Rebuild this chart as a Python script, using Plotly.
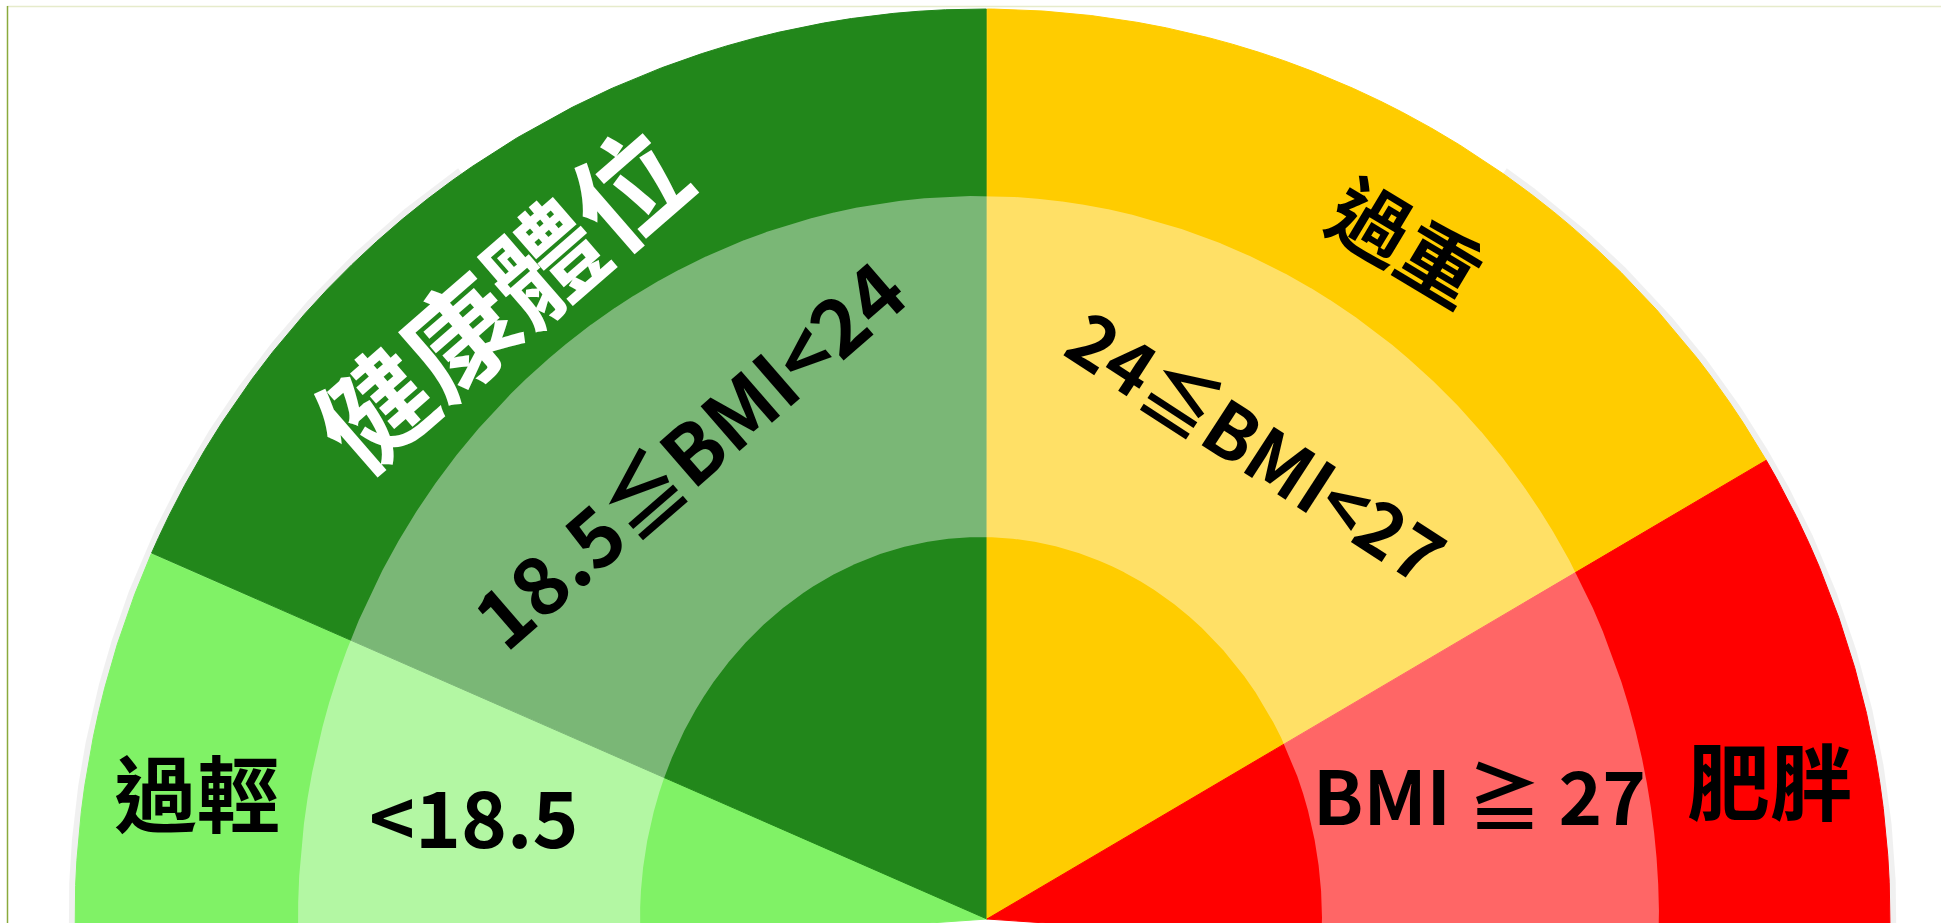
import numpy as np
import plotly.graph_objects as go

# ---------------- data ----------------
categories = ["過輕", "健康體位", "過重", "肥胖"]
bmi_ranges = ["<18.5", "18.5≦BMI<24", "24≦BMI<27", "BMI ≧ 27"]
sector_degrees = [23.65, 66.35, 59.5, 30.5]          # angular width of each zone, left → right
base_colors = ["#80F266", "#22871B", "#FFCC00", "#FF0000"]

# ---------------- geometry / style ----------------
W, H = 1941, 923
OX, OY = 987, 919                    # gauge centre in pixels (from left / from top)
OUTER = (-4.5, 907.5, 910.0)         # ellipse (centre x-offset, half width, half height)
MIDDLE = (-8.5, 680.5, 723.0)
INNER = (-6.0, 341.0, 382.0)
OVERLAY = "rgba(255,255,255,0.40)"
FONT = "Noto Sans CJK TC, Noto Sans CJK JP, sans-serif"


def ellipse_pts(e, n=8000, grow=0.0, lo=-5, hi=185):
    ex, a, b = e
    phi = np.linspace(np.radians(lo), np.radians(hi), n)
    return ex + (a + grow) * np.cos(phi), (b + grow) * np.sin(phi)


fig = go.Figure()

# soft edge shadow on the steep sides
for lo, hi in [(-5, 55), (125, 185)]:
    sx, sy = ellipse_pts(OUTER, n=2000, grow=3, lo=lo, hi=hi)
    fig.add_trace(go.Scatter(x=sx, y=sy, mode="lines", line=dict(color="rgba(0,0,0,0.06)", width=7),
                             hoverinfo="skip"))

# coloured zones (full depth)
ox, oy = ellipse_pts(OUTER)
theta = np.mod(np.degrees(np.arctan2(oy, ox)) + 90, 360) - 90
hi = 180.0
for i, (cat, span, col) in enumerate(zip(categories, sector_degrees, base_colors)):
    lo = hi - span
    h2 = hi + (4 if i == 0 else 0)
    l2 = lo - (4 if i == len(categories) - 1 else 0)
    m = (theta >= l2) & (theta <= h2)
    xs = np.concatenate([[0], ox[m], [0]])
    ys = np.concatenate([[0], oy[m], [0]])
    fig.add_trace(go.Scatter(x=xs, y=ys, fill="toself", fillcolor=col, mode="lines",
                             line=dict(color=col, width=1), hoverinfo="skip", name=cat))
    hi = lo

# translucent white band (middle ring)
mx, my = ellipse_pts(MIDDLE)
ix, iy = ellipse_pts(INNER)
fig.add_trace(go.Scatter(x=np.concatenate([mx, ix[::-1]]), y=np.concatenate([my, iy[::-1]]),
                         fill="toself", fillcolor=OVERLAY, mode="lines",
                         line=dict(width=0, color=OVERLAY), hoverinfo="skip"))

# ---------------- labels ----------------
# (dx, dy) from centre in px, rotation, size, colour
cat_style = [(-790, 129, 0, 83, "black"),
             (-489, 624, -41, 112, "white"),
             (421, 680, 31, 80, "black"),
             (783, 141, 0, 83, "black")]
rng_style = [(-514, 105, 0, 78, "black"),
             (-301, 468, -41, 80, "black"),
             (272, 476, 33, 74, "black"),
             (492, 127, 0, 74, "black")]

annotations = []
for txt, (dx, dy, ang, sz, c) in list(zip(categories, cat_style)) + list(zip(bmi_ranges, rng_style)):
    annotations.append(dict(x=dx, y=dy, xref="x", yref="y", text=txt, showarrow=False,
                            textangle=ang, xanchor="center", yanchor="middle",
                            font=dict(family=FONT, size=sz, color=c, weight="bold")))

shapes = [
    dict(type="line", xref="paper", yref="paper", x0=7 / W, x1=1, y0=(H - 6.5) / H, y1=(H - 6.5) / H,
         line=dict(color="#E6EBCB", width=1.5)),
    dict(type="line", xref="paper", yref="paper", x0=7.5 / W, x1=7.5 / W, y0=0, y1=(H - 6) / H,
         line=dict(color="#8AAA3C", width=1.5)),
]

fig.update_layout(
    width=W, height=H, margin=dict(l=0, r=0, t=0, b=0),
    paper_bgcolor="white", plot_bgcolor="white", showlegend=False,
    xaxis=dict(range=[-OX, W - OX], visible=False, fixedrange=True),
    yaxis=dict(range=[-(H - OY), OY], visible=False, fixedrange=True),
    annotations=annotations, shapes=shapes,
)

fig.write_html("out.html", config={"displayModeBar": False})
